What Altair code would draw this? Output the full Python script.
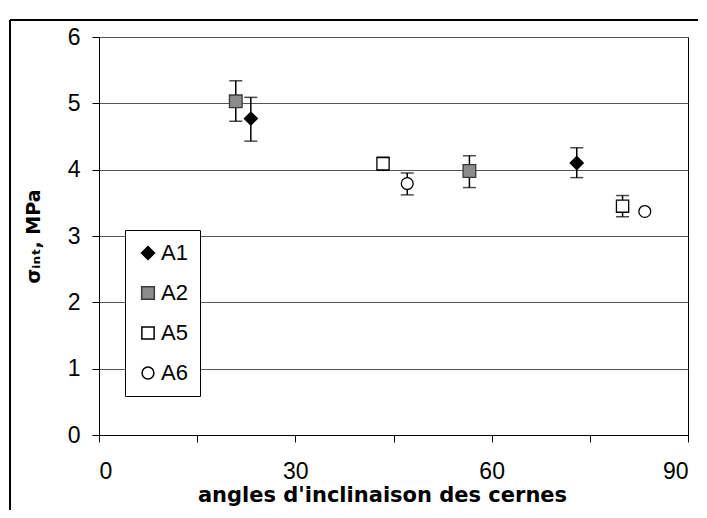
import altair as alt
import pandas as pd

series = ["A1", "A2", "A5", "A6"]
angles = {"A1": [23.2, 73.0], "A2": [20.9, 56.6], "A5": [43.4, 80.0], "A6": [47.1, 83.4]}
sigma = {"A1": [4.77, 4.10], "A2": [5.03, 3.98], "A5": [4.09, 3.45], "A6": [3.79, 3.37]}
err_lo = {"A1": [4.43, 3.88], "A2": [4.73, 3.73], "A5": [3.99, 3.29], "A6": [3.62, None]}
err_hi = {"A1": [5.09, 4.33], "A2": [5.34, 4.21], "A5": [4.19, 3.61], "A6": [3.95, None]}

rows = []
for s in series:
    for x, y, lo, hi in zip(angles[s], sigma[s], err_lo[s], err_hi[s]):
        rows.append({"serie": s, "angle": x, "sigma": y, "lo": lo, "hi": hi})
df = pd.DataFrame(rows)
err = df.dropna(subset=["lo"])

FONT = "Liberation Sans"
TFONT = "DejaVu Sans"

xs = alt.X("angle:Q", scale=alt.Scale(domain=[0, 90], nice=False),
           axis=alt.Axis(values=[0, 15, 30, 45, 60, 75, 90], format="d",
                         labelExpr="datum.value % 30 == 0 ? datum.label : ''",
                         title="angles d'inclinaison des cernes", grid=False,
                         tickSize=7, labelPadding=18, titlePadding=1,
                         titleX=283, titleAnchor="middle", titleFontSize=21))
ys = alt.Y("sigma:Q", scale=alt.Scale(domain=[0, 6], nice=False),
           axis=alt.Axis(values=[0, 1, 2, 3, 4, 5, 6], format="d", title="σᵢₙₜ, MPa",
                         grid=True, tickSize=7, labelPadding=12, titlePadding=24))

leg = alt.Legend(title=None, orient="none", legendX=26, legendY=193,
                 labelFont=FONT, labelFontSize=22, labelColor="black",
                 rowPadding=18, padding=12,
                 strokeColor="black", fillColor="white", labelOffset=2)

rules = alt.Chart(err).mark_rule(color="black", strokeWidth=1.5).encode(
    x="angle:Q", y="lo:Q", y2="hi:Q")
cap_lo = alt.Chart(err).mark_tick(color="black", orient="horizontal", size=13, thickness=1.5).encode(
    x="angle:Q", y="lo:Q")
cap_hi = alt.Chart(err).mark_tick(color="black", orient="horizontal", size=13, thickness=1.5).encode(
    x="angle:Q", y="hi:Q")

points = alt.Chart(df).mark_point(filled=False, strokeWidth=1.3, opacity=1).encode(
    x=xs, y=ys,
    shape=alt.Shape("serie:N", scale=alt.Scale(domain=series,
                    range=["diamond", "square", "square", "circle"]), legend=leg),
    fill=alt.Fill("serie:N", scale=alt.Scale(domain=series,
                  range=["black", "#8c8c8c", "white", "white"]), legend=leg),
    stroke=alt.Stroke("serie:N", scale=alt.Scale(domain=series,
                      range=["black", "#3a3a3a", "black", "black"]), legend=leg),
    size=alt.Size("serie:N", scale=alt.Scale(domain=series, range=[170, 140, 140, 260]),
                  legend=leg),
)

frame = alt.Chart(df).mark_rect(fill=None, stroke="black", strokeWidth=1).encode(
    x=alt.value(-89), x2=alt.value(604), y=alt.value(-17), y2=alt.value(500))

chart = alt.layer(frame, rules, cap_lo, cap_hi, points).properties(
    width=589, height=398,
    autosize=alt.AutoSizeParams(type="none"),
    padding={"left": 91, "top": 29, "right": 10, "bottom": 75},
    background="white",
).configure_view(stroke="black", strokeWidth=1).configure_axis(
    labelFont=FONT, labelFontSize=23, labelColor="black",
    titleFont=TFONT, titleFontSize=19, titleFontWeight="bold", titleColor="black",
    domainColor="black", tickColor="black", gridColor="#555555", gridWidth=1,
)

chart.save("out.html", embed_options={"renderer": "svg", "actions": False})
